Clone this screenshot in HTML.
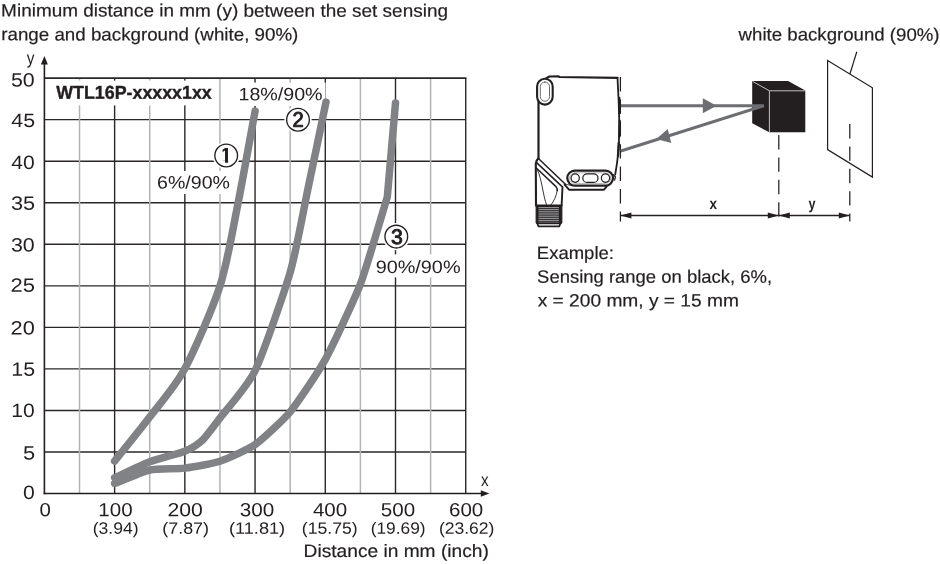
<!DOCTYPE html>
<html lang="en"><head><meta charset="utf-8"><title>WTL16P sensing range diagram</title>
<style>
html,body{margin:0;padding:0;background:#fff;}
body{width:940px;height:564px;overflow:hidden;}
svg{display:block;font-family:"Liberation Sans",sans-serif;}
text{fill:#231f20;}
</style></head><body>
<svg width="940" height="564" viewBox="0 0 940 564">
<rect width="940" height="564" fill="#fff"/>
<g fill="none" stroke-width="1.4">
<line x1="44.40" y1="452.00" x2="465.72" y2="452.00" stroke="#2b2728"/>
<line x1="44.40" y1="410.46" x2="465.72" y2="410.46" stroke="#2b2728"/>
<line x1="44.40" y1="368.92" x2="465.72" y2="368.92" stroke="#2b2728"/>
<line x1="44.40" y1="327.37" x2="465.72" y2="327.37" stroke="#2b2728"/>
<line x1="44.40" y1="285.83" x2="465.72" y2="285.83" stroke="#2b2728"/>
<line x1="44.40" y1="244.28" x2="465.72" y2="244.28" stroke="#2b2728"/>
<line x1="44.40" y1="202.74" x2="465.72" y2="202.74" stroke="#2b2728"/>
<line x1="44.40" y1="161.19" x2="465.72" y2="161.19" stroke="#2b2728"/>
<line x1="44.40" y1="119.65" x2="465.72" y2="119.65" stroke="#2b2728"/>
<line x1="114.62" y1="78.10" x2="114.62" y2="493.55" stroke="#2b2728"/>
<line x1="184.84" y1="78.10" x2="184.84" y2="493.55" stroke="#2b2728"/>
<line x1="255.06" y1="78.10" x2="255.06" y2="493.55" stroke="#2b2728"/>
<line x1="325.28" y1="78.10" x2="325.28" y2="493.55" stroke="#2b2728"/>
<line x1="395.50" y1="78.10" x2="395.50" y2="493.55" stroke="#2b2728"/>
<line x1="465.72" y1="78.10" x2="465.72" y2="493.55" stroke="#2b2728"/>
<line x1="79.51" y1="78.10" x2="79.51" y2="493.55" stroke="#b1b3b6" stroke-width="1.5"/>
<line x1="149.73" y1="78.10" x2="149.73" y2="493.55" stroke="#b1b3b6" stroke-width="1.5"/>
<line x1="219.95" y1="78.10" x2="219.95" y2="493.55" stroke="#b1b3b6" stroke-width="1.5"/>
<line x1="290.17" y1="78.10" x2="290.17" y2="493.55" stroke="#b1b3b6" stroke-width="1.5"/>
<line x1="360.39" y1="78.10" x2="360.39" y2="493.55" stroke="#b1b3b6" stroke-width="1.5"/>
<line x1="430.61" y1="78.10" x2="430.61" y2="493.55" stroke="#b1b3b6" stroke-width="1.5"/>
<line x1="44.40" y1="78.10" x2="466.42" y2="78.10" stroke="#2b2728" stroke-width="1.7"/>
</g>
<g fill="#fff">
<rect x="46" y="80.6" width="170" height="24.8"/>
<rect x="232" y="82.6" width="93.6" height="23.4"/>
<rect x="152" y="171" width="82" height="23"/>
<rect x="368" y="254.4" width="97" height="23"/>
</g>
<g fill="none" stroke="#808285" stroke-width="7.5" stroke-linecap="round" stroke-linejoin="round">
<path d="M114.6 461.1 C119.3 455.2 140.3 429.4 149.7 417.0 C159.1 404.6 175.4 386.2 184.8 368.7 C194.2 351.1 212.9 307.8 220.0 286.0 C227.0 264.2 232.8 229.5 237.5 206.1 C242.2 182.6 252.7 123.8 255.1 111.1"/>
<path d="M114.6 477.8 C118.5 476.1 142.0 464.7 149.7 461.8 C157.4 458.9 179.1 453.5 184.8 451.2 C190.6 448.8 198.5 443.8 202.4 440.2 C206.2 436.6 214.2 425.7 220.0 418.0 C225.7 410.4 247.4 386.6 255.1 370.6 C262.8 354.6 284.4 292.1 290.2 272.3 C295.9 252.5 303.8 208.8 307.7 190.1 C311.7 171.4 324.0 111.8 326.0 102.1"/>
<path d="M114.6 483.5 C118.0 482.2 143.0 471.5 149.7 470.0 C156.5 468.6 178.1 469.0 184.8 468.1 C191.6 467.3 213.2 463.6 220.0 461.3 C226.7 459.1 248.3 449.4 255.1 444.7 C261.8 440.0 283.4 420.0 290.2 411.9 C296.9 403.7 318.6 371.7 325.3 359.4 C332.0 347.2 354.4 299.7 360.4 284.2 C366.3 268.6 384.7 205.4 387.3 197.0 L395.5 103.0"/>
</g>
<g stroke="#231f20" stroke-width="1.6" fill="none">
<line x1="44.40" y1="63.00" x2="44.40" y2="494.35"/>
<line x1="43.60" y1="493.55" x2="482.00" y2="493.55"/>
</g>
<path d="M44.40 56 l3.5 8.6 h-7z" fill="#231f20"/>
<path d="M489.4 493.55 l-8.6 -3.3 v6.6z" fill="#231f20"/>
<defs><clipPath id="one"><path d="M222.6 145 H228.15 V164 H225 V160.6 H222.6 Z"/></clipPath></defs>
<circle cx="226.2" cy="155.5" r="13.6" fill="#fff"/>
<circle cx="226.2" cy="155.5" r="11.35" fill="#fff" stroke="#231f20" stroke-width="1.35"/>
<g clip-path="url(#one)"><text transform="translate(220.05 162.80) rotate(0.03)" font-size="21.5" font-weight="bold">1</text></g>
<circle cx="298.0" cy="119.7" r="13.6" fill="#fff"/>
<circle cx="298.0" cy="119.7" r="11.35" fill="#fff" stroke="#231f20" stroke-width="1.35"/>
<text transform="translate(292.60 126.70) rotate(0.03) scale(0.9651 1)" font-size="21.00" stroke="#231f20" stroke-width="0.95" stroke-linejoin="round">2</text>
<circle cx="396.3" cy="236.6" r="13.6" fill="#fff"/>
<circle cx="396.3" cy="236.6" r="11.35" fill="#fff" stroke="#231f20" stroke-width="1.35"/>
<text transform="translate(391.09 244.00) rotate(0.03) scale(1.0126 1)" font-size="21.00" stroke="#231f20" stroke-width="0.95" stroke-linejoin="round">3</text>
<text transform="translate(1.12 16.53) rotate(0.03) scale(1.0596 1)" font-size="17.90" stroke="#231f20" stroke-width="0.20" stroke-linejoin="round">Minimum distance in mm (y) between the set sensing</text>
<text transform="translate(1.23 40.37) rotate(0.03) scale(1.0481 1)" font-size="17.90" stroke="#231f20" stroke-width="0.20" stroke-linejoin="round">range and background (white, 90%)</text>
<text transform="translate(26.80 64.00) rotate(0.03) scale(0.8603 1)" font-size="17.90">y</text>
<text transform="translate(480.90 485.80) rotate(0.03) scale(0.8492 1)" font-size="17.90">x</text>
<text transform="translate(56.30 98.66) rotate(0.03) scale(0.9579 1)" font-size="18.60" font-weight="bold" stroke="#231f20" stroke-width="0.40" stroke-linejoin="round">WTL16P-xxxxx1xx</text>
<text transform="translate(238.47 100.28) rotate(0.03) scale(1.0977 1)" font-size="17.90">18%/90%</text>
<text transform="translate(157.08 188.48) rotate(0.03) scale(1.0934 1)" font-size="17.90">6%/90%</text>
<text transform="translate(375.67 272.98) rotate(0.03) scale(1.1083 1)" font-size="17.90">90%/90%</text>
<text transform="translate(22.94 499.10) rotate(0.03) scale(1.1042 1)" font-size="19.20">0</text>
<text transform="translate(22.92 459.40) rotate(0.03) scale(1.1398 1)" font-size="19.20">5</text>
<text transform="translate(11.28 417.09) rotate(0.03) scale(1.0977 1)" font-size="19.20">10</text>
<text transform="translate(11.26 375.69) rotate(0.03) scale(1.1147 1)" font-size="19.20">15</text>
<text transform="translate(10.58 334.49) rotate(0.03) scale(1.1312 1)" font-size="19.20">20</text>
<text transform="translate(10.57 291.79) rotate(0.03) scale(1.1485 1)" font-size="19.20">25</text>
<text transform="translate(10.93 251.49) rotate(0.03) scale(1.1145 1)" font-size="19.20">30</text>
<text transform="translate(10.92 209.79) rotate(0.03) scale(1.1312 1)" font-size="19.20">35</text>
<text transform="translate(11.27 168.99) rotate(0.03) scale(1.0983 1)" font-size="19.20">40</text>
<text transform="translate(11.27 126.89) rotate(0.03) scale(1.1145 1)" font-size="19.20">45</text>
<text transform="translate(10.93 86.59) rotate(0.03) scale(1.1145 1)" font-size="19.20">50</text>
<text transform="translate(39.56 516.20) rotate(0.03) scale(1.0737 1)" font-size="19.00">0</text>
<text transform="translate(98.32 516.19) rotate(0.03) scale(1.0819 1)" font-size="19.00">100</text>
<text transform="translate(92.78 533.79) rotate(0.03) scale(1.0673 1)" font-size="16.40">(3.94)</text>
<text transform="translate(167.51 516.19) rotate(0.03) scale(1.1142 1)" font-size="19.00">200</text>
<text transform="translate(162.26 533.79) rotate(0.03) scale(1.0916 1)" font-size="16.40">(7.87)</text>
<text transform="translate(239.75 516.19) rotate(0.03) scale(1.0903 1)" font-size="19.00">300</text>
<text transform="translate(228.95 533.79) rotate(0.03) scale(1.1093 1)" font-size="16.40">(11.81)</text>
<text transform="translate(312.88 516.19) rotate(0.03) scale(1.0798 1)" font-size="19.00">400</text>
<text transform="translate(301.77 533.79) rotate(0.03) scale(1.0766 1)" font-size="16.40">(15.75)</text>
<text transform="translate(380.86 516.19) rotate(0.03) scale(1.0838 1)" font-size="19.00">500</text>
<text transform="translate(370.69 533.79) rotate(0.03) scale(1.0567 1)" font-size="16.40">(19.69)</text>
<text transform="translate(449.04 516.19) rotate(0.03) scale(1.0812 1)" font-size="19.00">600</text>
<text transform="translate(438.88 533.79) rotate(0.03) scale(1.0706 1)" font-size="16.40">(23.62)</text>
<text transform="translate(303.60 556.95) rotate(0.03) scale(1.0706 1)" font-size="17.90" stroke="#231f20" stroke-width="0.20" stroke-linejoin="round">Distance in mm (inch)</text>
<text transform="translate(738.59 40.55) rotate(0.03) scale(1.0417 1)" font-size="17.90" stroke="#231f20" stroke-width="0.20" stroke-linejoin="round">white background (90%)</text>
<text transform="translate(536.85 258.88) rotate(0.03) scale(1.0335 1)" font-size="17.90" stroke="#231f20" stroke-width="0.20" stroke-linejoin="round">Example:</text>
<text transform="translate(537.12 282.64) rotate(0.03) scale(1.0315 1)" font-size="17.90" stroke="#231f20" stroke-width="0.20" stroke-linejoin="round">Sensing range on black, 6%,</text>
<text transform="translate(537.70 306.45) rotate(0.03) scale(1.0712 1)" font-size="17.90" stroke="#231f20" stroke-width="0.20" stroke-linejoin="round">x = 200 mm, y = 15 mm</text>
<g fill="none" stroke="#231f20" stroke-width="1.2">
<path d="M827.6 60.5 L872.4 87.8 L872.4 177.1 L827.6 149.6 Z" fill="#fff"/>
<line x1="856.8" y1="51.7" x2="850" y2="73.7"/>
</g>
<g fill="none" stroke="#231f20" stroke-width="1.25" stroke-dasharray="14.4 8">
<line x1="620.4" y1="77" x2="620.4" y2="221.6"/>
<line x1="778.8" y1="135" x2="778.8" y2="221.6"/>
<line x1="849.8" y1="124" x2="849.8" y2="221.6"/>
</g>
<g stroke="#231f20" stroke-width="1.3" fill="#231f20">
<line x1="620.4" y1="215.5" x2="849.8" y2="215.5"/>
<path d="M620.4 215.5 l11 -3 v6z M778.8 215.5 l-11 -3 v6z M778.8 215.5 l11 -3 v6z M849.8 215.5 l-11 -3 v6z" stroke="none"/>
</g>
<text transform="translate(709.60 209.30) rotate(0.03) scale(0.8661 1)" font-size="15.60" font-weight="bold">x</text>
<text transform="translate(808.40 209.20) rotate(0.03) scale(0.8091 1)" font-size="15.60" font-weight="bold">y</text>
<g fill="#6d6e71">
<path d="M702.8 98.3 L716.6 105.7 L702.8 113.2 Z"/>
<path d="M656.4 139.1 L667.7 129.1 L671.3 143 Z"/>
</g>
<path d="M752.2 81.0 L788.1 81.0 L805.3 90.6 L805.3 132.3 L769.2 132.3 L752.2 123.2 Z" fill="#231f20"/>
<path d="M752.6 81.4 L769.4 90.8 L805 90.8 M769.4 90.8 L769.4 132" fill="none" stroke="#d1d3d4" stroke-width="0.9"/>
<path d="M620.8 105.7 L763.8 105.7 L620.8 151" fill="none" stroke="#6d6e71" stroke-width="3" stroke-linejoin="bevel"/>
<g id="sensor" fill="none" stroke="#231f20" stroke-linejoin="round" stroke-linecap="round">
<path stroke-width="2.2" d="M538.5 158.4 L538.5 92 M546 78.4 L549.4 76.5 L558.5 76.3 L559.3 77 L617.4 77.9"/>
<path stroke-width="1.8" d="M617.5 77.9 L618.6 100 L619.3 122 L618.8 146 L617.2 162 L615.2 174.6"/>
<path stroke-width="2.3" d="M619.3 98 L619.6 113 M619.7 121 L619.4 136.5 M618.7 143 L618 156"/>
<rect x="537.1" y="78.8" width="15.6" height="25.8" rx="7.8" ry="7.8" stroke-width="2.1" fill="#fff"/>
<rect x="540.3" y="82" width="9.2" height="19.2" rx="4.6" ry="4.6" stroke-width="0.9" stroke="#58595b"/>
<path stroke-width="2.1" d="M538.4 158.4 Q535.9 160.6 535.8 163.5 L536 205.6"/>
<path stroke-width="1.9" d="M562.5 187.2 L561.6 205.6"/>
<path stroke-width="1.5" d="M539.2 159.3 L565.4 184.2 M536.6 162.6 L562.4 186.9 M536.3 168 L556 186.6 Q557.6 188.6 557.2 190.6"/>
<path stroke-width="0.9" d="M537.6 170.5 C541.6 177.5 543 196 546.6 204.9 M557.2 190.6 C556.4 196 554 201 551 204.9"/>
<path stroke-width="1.9" d="M564.6 184.6 L569 189.7 L604 189.7 L606.8 186.4"/>
<path stroke-width="0.8" d="M565.4 184.2 L572 185.6"/>
<rect x="567.3" y="170.6" width="45.7" height="15" rx="7.5" ry="7.5" stroke-width="2.2" fill="#fff"/>
<rect x="569.5" y="172.8" width="41.3" height="10.6" rx="5.3" ry="5.3" stroke-width="0.5" stroke="#6d6e71"/>
<circle cx="575.2" cy="178.1" r="4.15" stroke-width="1.25"/>
<circle cx="605.5" cy="178.1" r="4.15" stroke-width="1.25"/>
<rect x="582.8" y="173.9" width="15.2" height="8.5" rx="4.25" ry="4.25" stroke-width="1.25"/>
<path stroke-width="1.3" d="M613.2 174.6 L615.4 176.8 L614.6 180"/>
<path stroke-width="1.2" fill="#231f20" d="M536.2 205 L561.8 205 L561.8 222.6 L560.6 224 L537.2 224 L536.2 222.6 Z"/>
<path stroke-width="0.75" stroke="#c4c6c8" stroke-linecap="butt" d="M538.5 207.60 H558.9 M538.5 209.43 H558.9 M538.5 211.26 H558.9 M538.5 213.09 H558.9 M538.5 214.92 H558.9 M538.5 216.75 H558.9 M538.5 218.58 H558.9 M538.5 220.41 H558.9 M538.5 222.24 H558.9"/>
<path stroke-width="1.7" fill="#fff" d="M537.5 223.4 L560.2 223.4 L559.4 226.3 L538.3 226.3 Z"/>
</g>
</svg>
</body></html>
